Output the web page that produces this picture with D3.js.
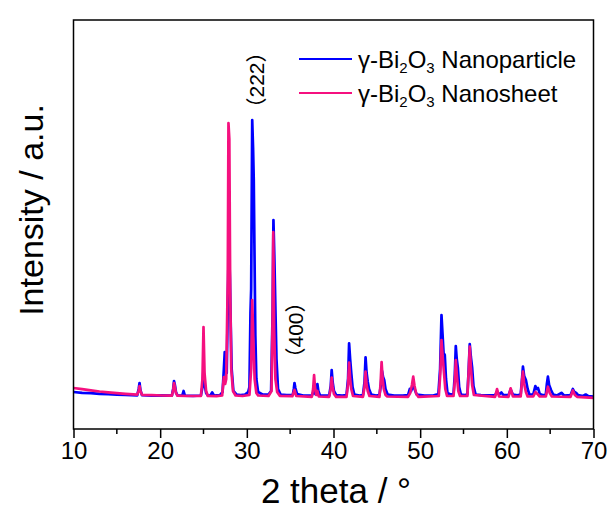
<!DOCTYPE html>
<html>
<head>
<meta charset="utf-8">
<script src="https://cdn.jsdelivr.net/npm/d3@7"></script>
<style>
  html, body { margin: 0; padding: 0; background: #fff; }
  svg text { font-family: Arial, "Liberation Sans", "Noto Sans CJK SC", sans-serif; fill: #000; }
</style>
</head>
<body>
<svg id="chart" width="610" height="517"></svg>
<script>
/* XRD patterns: gamma-Bi2O3 nanoparticle vs nanosheet */

const X_TICKS = [10, 20, 30, 40, 50, 60, 70];
const X_MINOR = [15, 25, 35, 45, 55, 65];

// [2theta, intensity (a.u.)]
const nanoparticle = [
  [10.0, 370], [11.0, 362], [12.0, 358], [13.0, 352], [14.0, 348], [15.0, 344], [16.0, 340], [17.35, 336],
  [17.52, 400], [17.62, 460], [17.72, 390], [17.9, 338],
  [19.0, 334], [20.2, 336], [21.35, 333],
  [21.5, 400], [21.6, 480], [21.7, 440], [21.82, 370], [22.0, 335],
  [22.55, 333], [22.7, 380], [22.85, 333],
  [23.8, 332], [24.7, 335], [24.88, 420], [25.0, 600], [25.12, 450], [25.3, 360], [25.5, 335],
  [25.8, 335], [26.0, 365], [26.2, 335],
  [26.9, 338], [27.2, 370], [27.35, 600], [27.45, 770], [27.55, 620], [27.68, 560],
  [27.92, 1910], [28.05, 1500], [28.12, 1140], [28.25, 600], [28.45, 380], [28.8, 345],
  [29.3, 340], [29.8, 345], [30.15, 370],
  [30.3, 420], [30.42, 1160], [30.5, 1400], [30.62, 3090], [30.72, 2810], [30.8, 2490], [30.88, 1790], [30.98, 940], [31.1, 500], [31.3, 370],
  [31.8, 345], [32.5, 345], [32.8, 380],
  [32.98, 1200], [33.07, 2090], [33.18, 1700], [33.3, 1190], [33.42, 700], [33.6, 400], [33.9, 345],
  [34.6, 340], [35.3, 340], [35.42, 400], [35.5, 460], [35.6, 410], [35.8, 350],
  [36.5, 335], [37.5, 335], [37.75, 380], [37.9, 350], [38.05, 400], [38.14, 450], [38.25, 380], [38.45, 335],
  [39.0, 333], [39.5, 335], [39.68, 430], [39.79, 590], [39.9, 470], [40.05, 380], [40.3, 340],
  [41.0, 335], [41.5, 340], [41.68, 500], [41.8, 857], [41.92, 700], [42.05, 560], [42.2, 420], [42.4, 345],
  [43.0, 335], [43.4, 340], [43.58, 470], [43.7, 717], [43.82, 560], [43.95, 473], [44.1, 400], [44.35, 345],
  [44.9, 335], [45.3, 340], [45.45, 430], [45.6, 580], [45.72, 520], [45.85, 490], [46.0, 400], [46.25, 345],
  [47.0, 335], [48.0, 333], [48.6, 340], [48.8, 400], [48.95, 380], [49.2, 440], [49.35, 400], [49.6, 345],
  [50.5, 335], [51.5, 335], [52.1, 350], [52.3, 600], [52.46, 1140], [52.58, 950], [52.7, 760], [52.84, 740], [52.98, 500], [53.15, 360],
  [53.5, 345], [53.85, 350], [54.0, 550], [54.11, 830], [54.22, 700], [54.35, 610], [54.5, 420], [54.7, 345],
  [55.1, 340], [55.45, 345], [55.6, 600], [55.72, 850], [55.85, 720], [56.0, 610], [56.15, 430], [56.4, 345],
  [57.0, 338], [58.0, 336], [58.65, 338], [58.87, 375], [59.1, 345], [59.37, 365], [59.6, 340],
  [60.2, 338], [60.44, 395], [60.7, 345], [61.2, 336], [61.6, 345], [61.75, 500], [61.86, 623], [62.0, 530], [62.2, 490], [62.4, 400], [62.6, 345],
  [63.05, 345], [63.29, 430], [63.45, 400], [63.6, 410], [63.8, 350],
  [64.2, 338], [64.5, 345], [64.62, 450], [64.74, 523], [64.88, 440], [65.1, 390], [65.35, 345],
  [65.8, 335], [66.3, 362], [66.6, 335], [67.35, 338], [67.62, 400], [67.8, 370], [68.0, 360], [68.2, 340],
  [68.8, 330], [69.1, 345], [69.4, 328], [70.0, 325]
];

const nanosheet = [
  [10.0, 410], [11.0, 398], [12.0, 386], [13.0, 375], [14.0, 366], [15.0, 358], [16.0, 351], [17.35, 344],
  [17.52, 380], [17.62, 430], [17.72, 380], [17.9, 342],
  [19.0, 338], [20.2, 335], [21.35, 333],
  [21.5, 390], [21.6, 460], [21.7, 420], [21.82, 360], [22.0, 333],
  [23.0, 330], [24.7, 330], [24.88, 500], [25.0, 1020], [25.12, 560], [25.3, 380], [25.5, 330],
  [26.5, 328], [27.15, 335], [27.35, 520], [27.5, 450], [27.62, 500],
  [27.8, 1500], [27.88, 3060], [27.98, 2900], [28.08, 1400], [28.2, 600], [28.4, 380], [28.7, 335],
  [29.5, 330], [30.3, 340], [30.5, 600], [30.62, 1290], [30.75, 900], [30.9, 500], [31.1, 360], [31.3, 335],
  [32.5, 330], [32.85, 380], [32.97, 1100], [33.05, 1970], [33.15, 1000], [33.3, 500], [33.5, 370], [33.8, 332],
  [35.25, 328], [35.5, 390], [35.7, 330],
  [37.5, 322], [37.65, 400], [37.76, 540], [37.86, 420], [38.0, 340], [38.14, 380], [38.3, 325],
  [39.5, 322], [39.68, 400], [39.79, 513], [39.9, 420], [40.05, 350], [40.3, 322],
  [41.5, 322], [41.68, 450], [41.8, 663], [41.92, 500], [42.05, 400], [42.25, 330],
  [43.4, 322], [43.58, 420], [43.7, 573], [43.82, 440], [43.95, 380], [44.15, 330],
  [45.3, 322], [45.43, 450], [45.55, 670], [45.67, 500], [45.8, 400], [46.0, 340], [46.2, 325],
  [48.6, 322], [48.85, 360], [49.05, 440], [49.2, 523], [49.35, 430], [49.55, 350], [49.8, 322],
  [52.15, 330], [52.32, 550], [52.46, 890], [52.6, 720], [52.75, 560], [52.9, 400], [53.1, 330],
  [53.85, 330], [54.0, 480], [54.11, 690], [54.25, 520], [54.4, 380], [54.6, 330],
  [55.45, 330], [55.6, 580], [55.72, 823], [55.85, 620], [56.0, 440], [56.2, 340],
  [58.65, 322], [58.87, 400], [59.1, 325], [60.2, 322], [60.44, 407], [60.7, 325],
  [61.6, 325], [61.75, 480], [61.86, 573], [62.0, 450], [62.2, 370], [62.4, 325],
  [63.05, 325], [63.3, 370], [63.6, 345], [63.8, 325],
  [64.5, 325], [64.74, 423], [64.95, 360], [65.2, 325],
  [67.35, 322], [67.62, 385], [67.85, 340], [68.1, 322], [70.0, 312]
];

const series = [
  { name: 'Nanoparticle', data: nanoparticle, color: '#0000ff' },
  { name: 'Nanosheet', data: nanosheet, color: '#f5107f' }
];

const peakLabels = [
  { hkl: '222', theta: 32.0, y: 80 },
  { hkl: '400', theta: 36.5, y: 330 }
];

const svg = d3.select('#chart');
const M = { left: 73.5, right: 593.5, top: 20, bottom: 429 };

const x = d3.scaleLinear().domain([10, 70]).range([M.left, M.right]);
const y = d3.scaleLinear().domain([0, 4090]).range([M.bottom, M.top]);

svg.append('clipPath').attr('id', 'plot-clip')
  .append('rect').attr('x', M.left).attr('y', M.top)
  .attr('width', M.right - M.left).attr('height', M.bottom - M.top);

const line = d3.line().x(d => x(d[0])).y(d => y(d[1]));

const plot = svg.append('g').attr('clip-path', 'url(#plot-clip)');
series.forEach(s => {
  plot.append('path')
    .datum(s.data)
    .attr('d', line)
    .attr('fill', 'none')
    .attr('stroke', s.color)
    .attr('stroke-width', 2.7)
    .attr('stroke-linejoin', 'round');
});

// frame
svg.append('rect')
  .attr('x', M.left).attr('y', M.top)
  .attr('width', M.right - M.left).attr('height', M.bottom - M.top)
  .attr('fill', 'none').attr('stroke', '#000').attr('stroke-width', 1.5);

// bottom axis
const xAxis = svg.append('g').attr('transform', `translate(0,${M.bottom})`)
  .call(d3.axisBottom(x).tickValues(X_TICKS).tickSize(9).tickPadding(4).tickFormat(d3.format('d')));
xAxis.select('.domain').remove();
xAxis.selectAll('line').attr('stroke-width', 1.5);
xAxis.selectAll('text').attr('font-size', 24).attr('font-family', 'Arial, "Liberation Sans", sans-serif');

svg.append('g').selectAll('line')
  .data(X_MINOR)
  .join('line')
  .attr('x1', d => x(d)).attr('x2', d => x(d))
  .attr('y1', M.bottom).attr('y2', M.bottom + 5)
  .attr('stroke', '#000').attr('stroke-width', 1.5);

// axis titles
svg.append('text')
  .attr('x', 336).attr('y', 503)
  .attr('text-anchor', 'middle').attr('font-size', 35)
  .text('2 theta / °');

svg.append('text')
  .attr('transform', 'translate(43,210) rotate(-90)')
  .attr('text-anchor', 'middle').attr('font-size', 34)
  .text('Intensity / a.u.');

// peak labels, full-width brackets
const labels = svg.append('g').selectAll('text')
  .data(peakLabels)
  .join('text')
  .attr('transform', d => `translate(${x(d.theta)},${d.y}) rotate(-90)`)
  .attr('text-anchor', 'middle')
  .attr('font-size', 21);
labels.append('tspan').attr('font-family', '"Noto Sans CJK SC"').text('（');
labels.append('tspan').text(d => d.hkl);
labels.append('tspan').attr('font-family', '"Noto Sans CJK SC"').text('）');

// legend
const legend = svg.append('g');
series.forEach((s, i) => {
  const ly = 59 + i * 34;
  legend.append('line')
    .attr('x1', 299).attr('x2', 352).attr('y1', ly).attr('y2', ly)
    .attr('stroke', s.color).attr('stroke-width', 2);
  const t = legend.append('text')
    .attr('x', 358).attr('y', ly + 9).attr('font-size', 24);
  t.append('tspan').text('γ-Bi');
  t.append('tspan').attr('font-size', 15).attr('dy', 5).text('2');
  t.append('tspan').attr('dy', -5).text('O');
  t.append('tspan').attr('font-size', 15).attr('dy', 5).text('3');
  t.append('tspan').attr('dy', -5).text(' ' + s.name);
});
</script>
</body>
</html>
